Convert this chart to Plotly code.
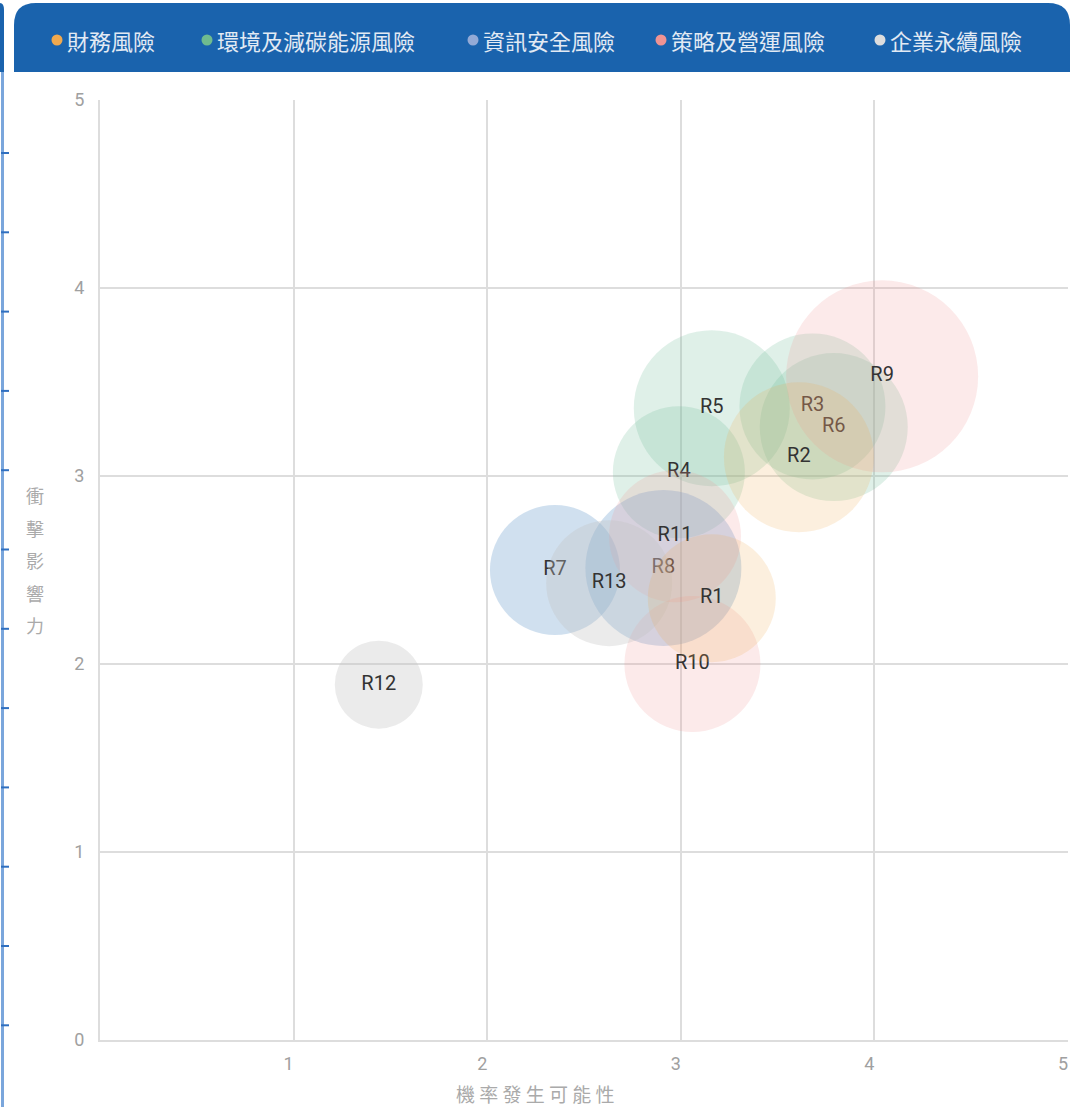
import plotly.graph_objects as go

# risk matrix data
risk_ids = ["R1", "R2", "R3", "R4", "R5", "R6", "R7", "R8", "R9", "R10", "R11", "R12", "R13"]
likelihood = [3.16, 3.61, 3.68, 2.99, 3.16, 3.79, 2.35, 2.91, 4.04, 3.06, 2.97, 1.44, 2.63]
impact = [2.35, 3.10, 3.37, 3.02, 3.36, 3.26, 2.50, 2.51, 3.53, 2.00, 2.68, 1.89, 2.43]
bubble_size = [128, 150, 146, 132, 156, 148, 130, 156, 192, 136, 132, 88, 126]
risk_category = ["財務風險", "財務風險",
                 "環境及減碳能源風險", "環境及減碳能源風險", "環境及減碳能源風險", "環境及減碳能源風險",
                 "資訊安全風險", "資訊安全風險",
                 "策略及營運風險", "策略及營運風險", "策略及營運風險",
                 "企業永續風險", "企業永續風險"]

categories = ["財務風險", "環境及減碳能源風險", "資訊安全風險", "策略及營運風險", "企業永續風險"]
legend_colors = ["#f0a94e", "#6fbb8f", "#93aad6", "#ef9393", "#dddddd"]
bubble_colors = ["rgba(240,170,80,0.19)", "rgba(110,185,150,0.22)", "rgba(120,165,210,0.35)",
                 "rgba(240,150,150,0.20)", "rgba(195,195,195,0.33)"]

x_ticks = [1, 2, 3, 4, 5]
y_ticks = [0, 1, 2, 3, 4, 5]

W, H = 1073, 1107
L, R, T, B = 100, 5, 100, 67
PW, PH = W - L - R, H - T - B


def px(x):
    return (x - L) / PW


def py(y):
    return (H - B - y) / PH


fig = go.Figure()

# draw orange last so its bubbles sit on top of the others' labels
draw_order = [1, 2, 3, 4, 0]
for ci in draw_order:
    cat = categories[ci]
    idx = [i for i, c in enumerate(risk_category) if c == cat]
    fig.add_trace(go.Scatter(
        x=[likelihood[i] for i in idx],
        y=[impact[i] for i in idx],
        text=[risk_ids[i] for i in idx],
        mode="markers+text",
        name=cat,
        showlegend=False,
        marker=dict(size=[bubble_size[i] for i in idx], sizemode="diameter", sizeref=1,
                    color=bubble_colors[ci], opacity=1, line=dict(width=0)),
        textposition="middle center",
        textfont=dict(family="Roboto", size=20, color="#333333"),
        hovertemplate="%{text}<br>機率發生可能性: %{x}<br>衝擊影響力: %{y}<extra>" + cat + "</extra>",
        cliponaxis=False,
    ))

shapes = []
# header bar with rounded top corners
x0, x1, y0, y1, r = 14, 1070, 3, 72, 22
path = (f"M {px(x0)},{py(y1)} L {px(x0)},{py(y0 + r)} Q {px(x0)},{py(y0)} {px(x0 + r)},{py(y0)} "
        f"L {px(x1 - r)},{py(y0)} Q {px(x1)},{py(y0)} {px(x1)},{py(y0 + r)} L {px(x1)},{py(y1)} Z")
shapes.append(dict(type="path", xref="paper", yref="paper", path=path,
                   fillcolor="#1a63ad", line=dict(width=0), layer="below"))
# neighbouring panel at left edge
path2 = (f"M {px(-20)},{py(72)} L {px(-20)},{py(3)} L {px(0)},{py(3)} Q {px(4)},{py(3)} {px(4)},{py(10)} "
         f"L {px(4)},{py(72)} Z")
shapes.append(dict(type="path", xref="paper", yref="paper", path=path2,
                   fillcolor="#1a63ad", line=dict(width=0), layer="below"))
shapes.append(dict(type="line", xref="paper", yref="paper", x0=px(2.5), x1=px(2.5), y0=py(72), y1=py(1107),
                   line=dict(color="#7aa6dc", width=3)))
for k in range(12):
    ty = 153 + 79.3 * k
    shapes.append(dict(type="line", xref="paper", yref="paper", x0=px(1), x1=px(9), y0=py(ty), y1=py(ty),
                       line=dict(color="#2f6fc0", width=2)))

annotations = []
# legend inside header
legend_x = [57, 207, 473, 661, 880]
for cat, col, lx in zip(categories, legend_colors, legend_x):
    shapes.append(dict(type="circle", xref="paper", yref="paper", xsizemode="pixel", ysizemode="pixel",
                       xanchor=px(lx), yanchor=py(40), x0=-5.5, x1=5.5, y0=-5.5, y1=5.5,
                       fillcolor=col, line=dict(width=0)))
    annotations.append(dict(text=cat, xref="paper", yref="paper", x=px(lx + 8), y=py(40),
                            xanchor="left", yanchor="middle", showarrow=False,
                            font=dict(family="Noto Sans CJK TC", size=22, color="#e2eaf4")))

# axis titles
annotations.append(dict(text="機 率 發 生 可 能 性", xref="paper", yref="paper", x=px(535), y=py(1093),
                        xanchor="center", yanchor="middle", showarrow=False,
                        font=dict(family="Noto Sans CJK TC", size=19, color="#aaaaaa")))
for k, ch in enumerate("衝擊影響力"):
    annotations.append(dict(text=ch, xref="paper", yref="paper", x=px(35), y=py(495 + 32.5 * k),
                            xanchor="center", yanchor="middle", showarrow=False,
                            font=dict(family="Noto Sans CJK TC", size=18, color="#aaaaaa")))

fig.update_layout(
    width=W, height=H,
    margin=dict(l=L, r=R, t=T, b=B),
    paper_bgcolor="white", plot_bgcolor="white",
    showlegend=False,
    xaxis=dict(range=[0, 5], tickvals=x_ticks, showgrid=True, gridcolor="#dddddd", gridwidth=2,
               zeroline=False, showline=True, linecolor="#dddddd", linewidth=2,
               tickfont=dict(family="Roboto", size=18, color="#a0a0a0"), ticks="",
               ticklabelstandoff=6, ticklabelshift=-5, ticklabeloverflow="allow", fixedrange=True),
    yaxis=dict(range=[0, 5], tickvals=y_ticks, showgrid=True, gridcolor="#dddddd", gridwidth=2,
               zeroline=False, showline=True, linecolor="#dddddd", linewidth=2,
               tickfont=dict(family="Roboto", size=18, color="#a0a0a0"), ticks="",
               ticklabelstandoff=10, fixedrange=True),
    shapes=shapes,
    annotations=annotations,
)

fig.write_html("out.html", config={"displayModeBar": False},
               post_script="document.body.style.margin='0';document.body.style.overflow='hidden';")
